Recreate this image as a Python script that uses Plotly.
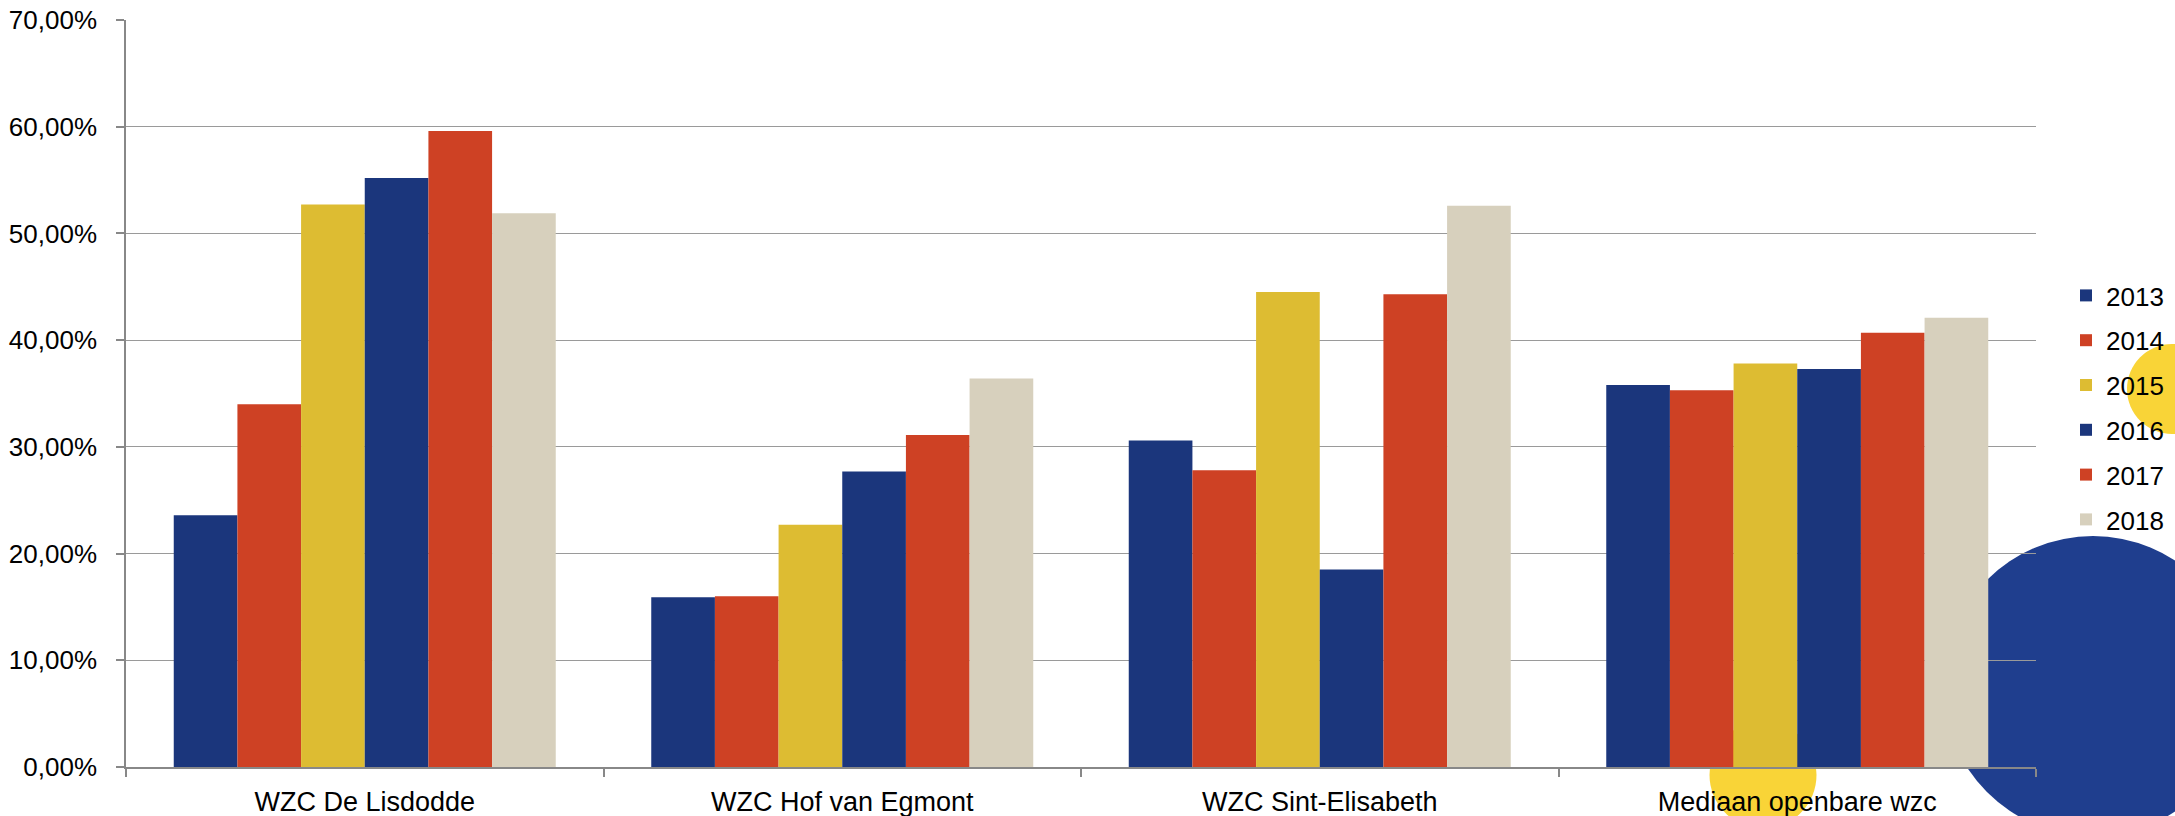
import plotly.graph_objects as go

categories = ["WZC De Lisdodde", "WZC Hof van Egmont", "WZC Sint-Elisabeth", "Mediaan openbare wzc"]
years = ["2013", "2014", "2015", "2016", "2017", "2018"]

v2013 = [0.236, 0.159, 0.306, 0.358]
v2014 = [0.340, 0.160, 0.278, 0.353]
v2015 = [0.527, 0.227, 0.445, 0.378]
v2016 = [0.552, 0.277, 0.185, 0.373]
v2017 = [0.596, 0.311, 0.443, 0.407]
v2018 = [0.519, 0.364, 0.526, 0.421]

series = [v2013, v2014, v2015, v2016, v2017, v2018]
colors = ["#1B367C", "#CE4124", "#DDBC32", "#1B367C", "#CE4124", "#D7D0BD"]

W, H = 2175, 816
ML, MR, MT, MB = 126, 139, 20, 49
PW = W - ML - MR
PH = H - MT - MB


def px_x(p):
    return (p - ML) / PW


def px_y(p):
    return (H - MB - p) / PH


fig = go.Figure()
for yr, vals, col in zip(years, series, colors):
    fig.add_trace(go.Bar(
        name=yr, x=categories, y=vals, legendgroup=yr,
        marker=dict(color=col, line=dict(width=0)),
    ))

# decorative background circles
circles = [
    (2093, 686, 150, "#1F3E8E"),
    (2172, 389, 45, "#F9D437"),
    (1763, 775, 53.5, "#F9D437"),
]
for cx, cy, r, col in circles:
    fig.add_shape(type="circle", xref="paper", yref="paper",
                  x0=px_x(cx - r), x1=px_x(cx + r),
                  y0=px_y(cy + r), y1=px_y(cy - r),
                  fillcolor=col, line=dict(width=0), layer="below")

fig.update_layout(
    width=W, height=H,
    margin=dict(l=ML, r=MR, t=MT, b=MB, autoexpand=False),
    paper_bgcolor="white", plot_bgcolor="white",
    font=dict(family="Liberation Sans, Arial, sans-serif", size=26, color="#000000"),
    separators=",.",
    barmode="group", bargap=0.2, bargroupgap=0,
    showlegend=True,
    legend=dict(
        x=px_x(2066), xanchor="left",
        y=px_y(272), yanchor="top",
        traceorder="grouped", tracegroupgap=8,
        bgcolor="rgba(0,0,0,0)",
        font=dict(size=26),
    ),
)

fig.update_xaxes(
    type="category", tickson="boundaries", ticks="outside", ticklen=8,
    tickcolor="#888888", tickwidth=1.5,
    showline=True, linecolor="#888888", linewidth=1.5,
    showgrid=False, tickfont=dict(size=27), ticklabelstandoff=10,
    automargin=False,
)
fig.update_yaxes(
    range=[0, 0.7], dtick=0.1, tickformat=".2%",
    ticks="outside", ticklen=8, tickcolor="#888888", tickwidth=1.5,
    showline=True, linecolor="#888888", linewidth=1.5,
    showgrid=True, gridcolor="#9A9A9A", gridwidth=1.2,
    zeroline=False, ticklabelstandoff=14, automargin=False,
)

fig.write_html("out.html")
